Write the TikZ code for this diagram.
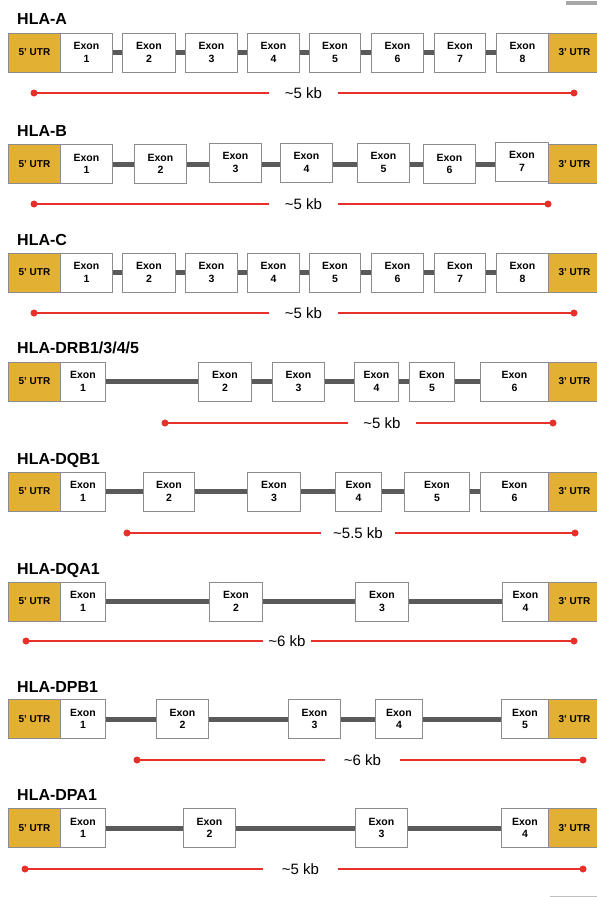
\documentclass[tikz,border=0pt]{standalone}
\usepackage{fontspec}
\setmainfont{Liberation Sans}
\usetikzlibrary{positioning}
\definecolor{utrgold}{RGB}{226,176,50}
\definecolor{boxgrey}{RGB}{140,140,140}
\definecolor{introngrey}{RGB}{90,90,90}
\definecolor{spanred}{RGB}{232,48,42}
\tikzset{
  exon/.style={draw=boxgrey, fill=white, line width=0.9pt, minimum height=39pt, inner sep=0pt,
    anchor=west, align=center, font=\fontsize{10.5}{12.5}\selectfont\bfseries},
  utr/.style={exon, fill=utrgold, font=\fontsize{10}{12}\selectfont\bfseries},
  intron/.style={draw=introngrey, line width=5pt},
  genename/.style={anchor=base west, inner sep=0pt, font=\fontsize{16}{18}\selectfont\bfseries},
  spanlabel/.style={inner sep=0pt, text height=10.7pt, text depth=0pt, font=\fontsize{15}{17}\selectfont},
  span/.style={draw=spanred, line width=2pt},
  spanend/.style={fill=spanred}
}
\begin{document}
\begin{tikzpicture}[x=1pt,y=-1pt]
\useasboundingbox (0,0) rectangle (597,897);
\fill[white] (0,0) rectangle (597,897);
\fill[black!35] (566,1) rectangle (597,4.5);
\fill[black!25] (550,895.5) rectangle (597,897);

\node[genename] (ta) at (17,24.5) {HLA-A};
\node[utr, minimum width=52] (a5) at (8,52.5) {5' UTR};
\node[exon, minimum width=52] (a1) at (60,52.5) {Exon\\1};
\node[exon, minimum width=53] (a2) at (122,52.5) {Exon\\2};
\node[exon, minimum width=52] (a3) at (185,52.5) {Exon\\3};
\node[exon, minimum width=52] (a4) at (247,52.5) {Exon\\4};
\node[exon, minimum width=51] (a5e) at (309,52.5) {Exon\\5};
\node[exon, minimum width=52] (a6) at (371,52.5) {Exon\\6};
\node[exon, minimum width=51] (a7) at (434,52.5) {Exon\\7};
\node[exon, minimum width=52] (a8) at (496,52.5) {Exon\\8};
\node[utr, minimum width=52] (a3u) at (548,52.5) {3' UTR};
\draw[intron] (a1) -- (a2) -- (a3) -- (a4) -- (a5e) -- (a6) -- (a7) -- (a8);
\coordinate (sa1) at (34,93);
\coordinate (sa2) at (574,93);
\node[spanlabel, minimum width=69] (ka) at (303.5,93) {\textasciitilde5 kb};
\draw[span] (sa1) -- (ka);
\draw[span] (ka) -- (sa2);
\fill[spanend] (sa1) circle (3.5) (sa2) circle (3.5);

\node[genename] (tb) at (17,136) {HLA-B};
\node[utr, minimum width=52] (b5) at (8,164) {5' UTR};
\node[exon, minimum width=52] (b1) at (60,164) {Exon\\1};
\node[exon, minimum width=52] (b2) at (134,164) {Exon\\2};
\node[exon, minimum width=52] (b3) at (209,162.5) {Exon\\3};
\node[exon, minimum width=52] (b4) at (280,162.5) {Exon\\4};
\node[exon, minimum width=52] (b5e) at (357,162.5) {Exon\\5};
\node[exon, minimum width=52] (b6) at (423,164) {Exon\\6};
\node[exon, minimum width=53] (b7) at (495,161.5) {Exon\\7};
\node[utr, minimum width=52] (b3u) at (548,164) {3' UTR};
\draw[intron] (b1) -- (b2);
\draw[intron] (b2.east |- b1) -- (b3.west |- b1);
\draw[intron] (b3.east |- b1) -- (b4.west |- b1);
\draw[intron] (b4.east |- b1) -- (b5e.west |- b1);
\draw[intron] (b5e.east |- b1) -- (b6.west |- b1);
\draw[intron] (b6.east |- b1) -- (b7.west |- b1);
\coordinate (sb1) at (34,204);
\coordinate (sb2) at (548,204);
\node[spanlabel, minimum width=69] (kb) at (303.5,204) {\textasciitilde5 kb};
\draw[span] (sb1) -- (kb);
\draw[span] (kb) -- (sb2);
\fill[spanend] (sb1) circle (3.5) (sb2) circle (3.5);

\node[genename] (tc) at (17,245) {HLA-C};
\node[utr, minimum width=52] (c5) at (8,272.5) {5' UTR};
\node[exon, minimum width=52] (c1) at (60,272.5) {Exon\\1};
\node[exon, minimum width=53] (c2) at (122,272.5) {Exon\\2};
\node[exon, minimum width=52] (c3) at (185,272.5) {Exon\\3};
\node[exon, minimum width=52] (c4) at (247,272.5) {Exon\\4};
\node[exon, minimum width=51] (c5e) at (309,272.5) {Exon\\5};
\node[exon, minimum width=52] (c6) at (371,272.5) {Exon\\6};
\node[exon, minimum width=51] (c7) at (434,272.5) {Exon\\7};
\node[exon, minimum width=52] (c8) at (496,272.5) {Exon\\8};
\node[utr, minimum width=52] (c3u) at (548,272.5) {3' UTR};
\draw[intron] (c1) -- (c2) -- (c3) -- (c4) -- (c5e) -- (c6) -- (c7) -- (c8);
\coordinate (sc1) at (34,313);
\coordinate (sc2) at (574,313);
\node[spanlabel, minimum width=69] (kc) at (303.5,313) {\textasciitilde5 kb};
\draw[span] (sc1) -- (kc);
\draw[span] (kc) -- (sc2);
\fill[spanend] (sc1) circle (3.5) (sc2) circle (3.5);

\node[genename] (tdrb) at (17,353) {HLA-DRB1/3/4/5};
\node[utr, minimum width=52] (drb5) at (8,381.5) {5' UTR};
\node[exon, minimum width=45] (drb1) at (60,381.5) {Exon\\1};
\node[exon, minimum width=53] (drb2) at (198,381.5) {Exon\\2};
\node[exon, minimum width=52] (drb3) at (272,381.5) {Exon\\3};
\node[exon, minimum width=44] (drb4) at (354,381.5) {Exon\\4};
\node[exon, minimum width=45] (drb5e) at (409,381.5) {Exon\\5};
\node[exon, minimum width=68] (drb6) at (480,381.5) {Exon\\6};
\node[utr, minimum width=52] (drb3u) at (548,381.5) {3' UTR};
\draw[intron] (drb1) -- (drb2) -- (drb3) -- (drb4) -- (drb5e) -- (drb6);
\coordinate (sdrb1) at (165,423);
\coordinate (sdrb2) at (553,423);
\node[spanlabel, minimum width=68] (kdrb) at (382,423) {\textasciitilde5 kb};
\draw[span] (sdrb1) -- (kdrb);
\draw[span] (kdrb) -- (sdrb2);
\fill[spanend] (sdrb1) circle (3.5) (sdrb2) circle (3.5);

\node[genename] (tdqb) at (17,464) {HLA-DQB1};
\node[utr, minimum width=52] (dqb5) at (8,491.5) {5' UTR};
\node[exon, minimum width=45] (dqb1) at (60,491.5) {Exon\\1};
\node[exon, minimum width=51] (dqb2) at (143,491.5) {Exon\\2};
\node[exon, minimum width=53] (dqb3) at (247,491.5) {Exon\\3};
\node[exon, minimum width=46] (dqb4) at (335,491.5) {Exon\\4};
\node[exon, minimum width=65] (dqb5e) at (404,491.5) {Exon\\5};
\node[exon, minimum width=68] (dqb6) at (480,491.5) {Exon\\6};
\node[utr, minimum width=52] (dqb3u) at (548,491.5) {3' UTR};
\draw[intron] (dqb1) -- (dqb2) -- (dqb3) -- (dqb4) -- (dqb5e) -- (dqb6);
\coordinate (sdqb1) at (127,533);
\coordinate (sdqb2) at (575,533);
\node[spanlabel, minimum width=74] (kdqb) at (358,533) {\textasciitilde5.5 kb};
\draw[span] (sdqb1) -- (kdqb);
\draw[span] (kdqb) -- (sdqb2);
\fill[spanend] (sdqb1) circle (3.5) (sdqb2) circle (3.5);

\node[genename] (tdqa) at (17,574) {HLA-DQA1};
\node[utr, minimum width=52] (dqa5) at (8,601.5) {5' UTR};
\node[exon, minimum width=45] (dqa1) at (60,601.5) {Exon\\1};
\node[exon, minimum width=53] (dqa2) at (209,601.5) {Exon\\2};
\node[exon, minimum width=53] (dqa3) at (355,601.5) {Exon\\3};
\node[exon, minimum width=46] (dqa4) at (502,601.5) {Exon\\4};
\node[utr, minimum width=52] (dqa3u) at (548,601.5) {3' UTR};
\draw[intron] (dqa1) -- (dqa2) -- (dqa3) -- (dqa4);
\coordinate (sdqa1) at (26,641);
\coordinate (sdqa2) at (574,641);
\node[spanlabel, minimum width=48] (kdqa) at (287,641) {\textasciitilde6 kb};
\draw[span] (sdqa1) -- (kdqa);
\draw[span] (kdqa) -- (sdqa2);
\fill[spanend] (sdqa1) circle (3.5) (sdqa2) circle (3.5);

\node[genename] (tdpb) at (17,692) {HLA-DPB1};
\node[utr, minimum width=52] (dpb5) at (8,719) {5' UTR};
\node[exon, minimum width=45] (dpb1) at (60,719) {Exon\\1};
\node[exon, minimum width=52] (dpb2) at (156,719) {Exon\\2};
\node[exon, minimum width=52] (dpb3) at (288,719) {Exon\\3};
\node[exon, minimum width=47] (dpb4) at (375,719) {Exon\\4};
\node[exon, minimum width=47] (dpb5e) at (501,719) {Exon\\5};
\node[utr, minimum width=52] (dpb3u) at (548,719) {3' UTR};
\draw[intron] (dpb1) -- (dpb2) -- (dpb3) -- (dpb4) -- (dpb5e);
\coordinate (sdpb1) at (137,760);
\coordinate (sdpb2) at (583,760);
\node[spanlabel, minimum width=75] (kdpb) at (362.5,760) {\textasciitilde6 kb};
\draw[span] (sdpb1) -- (kdpb);
\draw[span] (kdpb) -- (sdpb2);
\fill[spanend] (sdpb1) circle (3.5) (sdpb2) circle (3.5);

\node[genename] (tdpa) at (17,800) {HLA-DPA1};
\node[utr, minimum width=52] (dpa5) at (8,828) {5' UTR};
\node[exon, minimum width=45] (dpa1) at (60,828) {Exon\\1};
\node[exon, minimum width=52] (dpa2) at (183,828) {Exon\\2};
\node[exon, minimum width=52] (dpa3) at (355,828) {Exon\\3};
\node[exon, minimum width=47] (dpa4) at (501,828) {Exon\\4};
\node[utr, minimum width=52] (dpa3u) at (548,828) {3' UTR};
\draw[intron] (dpa1) -- (dpa2) -- (dpa3) -- (dpa4);
\coordinate (sdpa1) at (25,869);
\coordinate (sdpa2) at (583,869);
\node[spanlabel, minimum width=75] (kdpa) at (300.5,869) {\textasciitilde5 kb};
\draw[span] (sdpa1) -- (kdpa);
\draw[span] (kdpa) -- (sdpa2);
\fill[spanend] (sdpa1) circle (3.5) (sdpa2) circle (3.5);
\end{tikzpicture}
\end{document}
